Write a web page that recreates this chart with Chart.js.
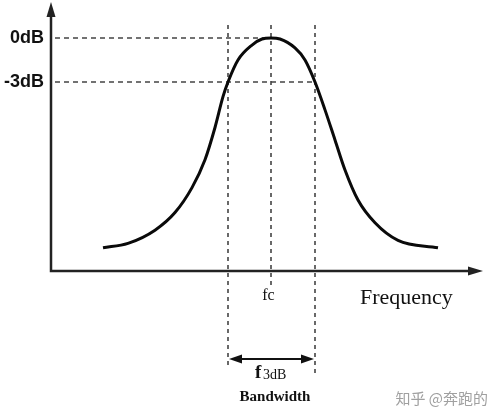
<!DOCTYPE html>
<html>
<head>
<meta charset="utf-8">
<script src="https://cdn.jsdelivr.net/npm/chart.js@4.4.1/dist/chart.umd.min.js"></script>
<style>
  html, body { margin: 0; padding: 0; background: #fff; }
  canvas { display: block; }
</style>
</head>
<body>
<canvas id="bandChart" width="500" height="419"></canvas>
<script>
// Frequency response (x in arbitrary frequency units, y in dB)
const freq   = [5.2, 7.7, 10.4, 12.4, 14.1, 15.4, 16.4, 17.2, 17.7, 18.7, 20.1, 21.1, 22.0, 22.9, 24.4, 25.4, 26.4, 27.4, 28.4, 29.4, 30.7, 32.4, 34.7, 38.7];
const gainDb = [-14.3, -14.0, -13.1, -11.9, -10.2, -8.3, -6.1, -4.0, -3.0, -1.5, -0.48, -0.07, 0, -0.07, -0.68, -1.5, -3.0, -4.9, -6.95, -9.0, -11.05, -12.6, -13.8, -14.3];

// Marker frequencies and level ticks
const fLow = 17.7, fCenter = 22.0, fHigh = 26.4;
const levelTicks = [0, -3];
const levelLabels = ['0dB', '-3dB'];

// Draws the dashed guides, the arrowed axes and all annotation text
const annotations = {
  id: 'annotations',
  beforeDatasetsDraw(chart) {
    const ctx = chart.ctx;
    const x = chart.scales.x, y = chart.scales.y;
    ctx.save();
    ctx.strokeStyle = '#444';
    ctx.lineWidth = 1.6;

    // horizontal guides
    ctx.setLineDash([5, 4]);
    const y0 = y.getPixelForValue(0), y3 = y.getPixelForValue(-3);
    ctx.beginPath();
    ctx.moveTo(55, y0); ctx.lineTo(x.getPixelForValue(fCenter), y0);
    ctx.moveTo(55, y3); ctx.lineTo(x.getPixelForValue(fHigh), y3);
    ctx.stroke();

    // vertical guides
    ctx.setLineDash([4, 4]);
    ctx.beginPath();
    ctx.moveTo(x.getPixelForValue(fLow), 25);    ctx.lineTo(x.getPixelForValue(fLow), 368);
    ctx.moveTo(x.getPixelForValue(fCenter), 25); ctx.lineTo(x.getPixelForValue(fCenter), 285);
    ctx.moveTo(x.getPixelForValue(fHigh), 25);   ctx.lineTo(x.getPixelForValue(fHigh), 376);
    ctx.stroke();
    ctx.restore();
  },
  afterDraw(chart) {
    const ctx = chart.ctx;
    const x = chart.scales.x, y = chart.scales.y;
    const area = chart.chartArea;
    ctx.save();

    // axes
    ctx.strokeStyle = '#222';
    ctx.fillStyle = '#222';
    ctx.lineWidth = 2.5;
    ctx.setLineDash([]);
    ctx.beginPath();
    ctx.moveTo(area.left, 12);
    ctx.lineTo(area.left, area.bottom);
    ctx.lineTo(area.right - 10, area.bottom);
    ctx.stroke();
    // arrow heads
    ctx.beginPath();
    ctx.moveTo(area.left, area.top);
    ctx.lineTo(area.left - 4.5, area.top + 15);
    ctx.lineTo(area.left + 4.5, area.top + 15);
    ctx.closePath();
    ctx.fill();
    ctx.beginPath();
    ctx.moveTo(area.right, area.bottom);
    ctx.lineTo(area.right - 15, area.bottom - 4.5);
    ctx.lineTo(area.right - 15, area.bottom + 4.5);
    ctx.closePath();
    ctx.fill();

    // level labels
    ctx.fillStyle = '#111';
    ctx.font = 'bold 18px "Liberation Sans", Arial, sans-serif';
    ctx.textAlign = 'right';
    ctx.textBaseline = 'middle';
    levelTicks.forEach((v, i) => {
      ctx.fillText(levelLabels[i], 44, y.getPixelForValue(v));
    });

    // fc label
    ctx.font = '16px "Liberation Serif", "Times New Roman", serif';
    ctx.textAlign = 'center';
    ctx.fillText('fc', 268.5, 296);

    // axis title
    ctx.font = '22px "Liberation Serif", "Times New Roman", serif';
    ctx.textAlign = 'left';
    ctx.fillText('Frequency', 360, 298);

    // bandwidth arrow
    const xl = x.getPixelForValue(fLow) + 1, xr = x.getPixelForValue(fHigh) - 1, ya = 359;
    ctx.lineWidth = 2.2;
    ctx.strokeStyle = '#111';
    ctx.beginPath();
    ctx.moveTo(xl + 6, ya); ctx.lineTo(xr - 6, ya);
    ctx.stroke();
    ctx.beginPath();
    ctx.moveTo(xl, ya); ctx.lineTo(xl + 13, ya - 4.5); ctx.lineTo(xl + 13, ya + 4.5); ctx.closePath();
    ctx.moveTo(xr, ya); ctx.lineTo(xr - 13, ya - 4.5); ctx.lineTo(xr - 13, ya + 4.5); ctx.closePath();
    ctx.fill();

    // f3dB label
    ctx.textAlign = 'left';
    ctx.font = 'bold 19px "Liberation Serif", "Times New Roman", serif';
    ctx.fillText('f', 255, 373);
    ctx.font = '14px "Liberation Serif", "Times New Roman", serif';
    ctx.fillText('3dB', 263, 375);

    ctx.textAlign = 'center';
    ctx.font = 'bold 15px "Liberation Serif", "Times New Roman", serif';
    ctx.fillText('Bandwidth', 275, 397);

    // watermark
    ctx.fillStyle = '#a0a0a0';
    ctx.font = '15px "Noto Sans CJK SC", sans-serif';
    ctx.textAlign = 'right';
    ctx.fillText('知乎 @奔跑的', 488, 398);

    ctx.restore();
  }
};

const ctx = document.getElementById('bandChart').getContext('2d');

const bandChart = new Chart(ctx, {
  type: 'line',
  data: {
    datasets: [{
      data: freq.map((f, i) => ({ x: f, y: gainDb[i] })),
      borderColor: '#0a0a0a',
      borderWidth: 3,
      pointRadius: 0,
      fill: false,
      cubicInterpolationMode: 'monotone',
    }],
  },
  options: {
    responsive: false,
    devicePixelRatio: 1,
    animation: false,
    layout: {
      padding: { left: 51, right: 17, top: 2, bottom: 148 },
    },
    scales: {
      x: { type: 'linear', min: 0, max: 43.2, display: false },
      y: { type: 'linear', min: -15.886, max: 2.455, display: false },
    },
    plugins: {
      legend: { display: false },
      tooltip: { enabled: false },
    },
  },
  plugins: [annotations],
});
</script>
</body>
</html>
